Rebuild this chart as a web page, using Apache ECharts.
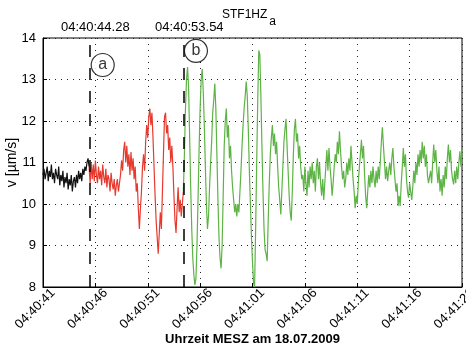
<!DOCTYPE html>
<html>
<head>
<meta charset="utf-8">
<script src="https://cdn.jsdelivr.net/npm/echarts@6/dist/echarts.min.js"></script>
<style>
  html, body { margin: 0; padding: 0; background: #fff; }
  #main { width: 466px; height: 349px; }
</style>
</head>
<body>
<div id="main"></div>
<script>
// x is seconds after 04:40:41, sampled every 0.1 s
const xTickLabels = ['04:40:41', '04:40:46', '04:40:51', '04:40:56', '04:41:01', '04:41:06', '04:41:11', '04:41:16', '04:41:21'];
const sampleStep = 0.1;
const segmentStart = [0, 4.4, 13.4];

const quietValues = [
  10.7, 10.85, 10.6, 10.75, 10.9, 10.55, 10.8, 10.65, 10.95, 10.6,
  10.75, 10.5, 10.85, 10.7, 10.6, 10.9, 10.45, 10.7, 10.55, 10.8,
  10.4, 10.65, 10.5, 10.75, 10.35, 10.6, 10.45, 10.7, 10.3, 10.55,
  10.65, 10.4, 10.7, 10.5, 10.8, 10.6, 10.75, 10.55, 10.85, 10.7,
  10.9, 10.8, 11.0, 11.1, 10.9
];

const phaseAValues = [
  10.9, 10.5, 11.0, 10.6, 10.95, 10.55, 11.05, 10.7, 10.5, 10.9,
  10.6, 10.8, 10.45, 10.95, 10.65, 10.5, 10.85, 10.4, 10.7, 10.6,
  10.3, 10.75, 10.5, 10.35, 10.6, 10.2, 10.45, 10.6, 10.3, 10.5,
  10.7, 11.05, 10.8, 11.3, 11.5, 11.0, 11.4, 10.9, 11.2, 10.7,
  11.25, 10.8, 11.1, 10.6, 10.9, 10.3, 10.5, 9.9, 9.4, 9.9,
  10.3, 10.9, 11.2, 10.8, 11.5, 11.9, 11.6, 12.1, 12.3, 11.9,
  12.2, 11.6, 10.9, 10.2, 9.6, 9.2, 8.8, 9.3, 9.8, 9.4,
  10.3, 11.2, 12.1, 12.2, 11.7, 11.9, 11.3, 11.6, 11.0, 11.4,
  10.9, 10.2, 9.6, 9.3, 9.9, 10.4, 9.8, 10.1, 9.7, 10.0,
  10.3
];

const phaseBValues = [
  10.3, 11.2, 12.3, 13.0, 13.3, 12.8, 11.6, 10.4, 9.4, 8.7,
  8.3, 8.05, 8.2, 9.0, 10.1, 11.3, 12.3, 13.0, 13.25, 12.7,
  11.9, 10.9, 10.0, 9.4, 9.7, 10.4, 11.0, 11.5, 12.2, 12.5,
  12.9, 12.3, 11.2, 10.1, 9.2, 8.7, 8.45, 9.0, 10.2, 11.4,
  12.0, 12.3, 11.6, 11.9, 11.1, 11.4, 10.8, 10.4, 10.1, 9.8,
  10.0, 9.7, 10.0, 9.8, 10.3, 10.8, 11.4, 11.9, 12.3, 12.6,
  12.95, 12.6, 11.8, 10.8, 10.0, 9.2, 8.6, 8.1, 8.0, 9.4,
  11.0, 12.5, 13.7, 13.6, 12.6, 11.4, 10.3, 9.4, 8.9, 8.8,
  8.62, 9.6, 10.5, 11.2, 11.6, 11.9, 11.4, 11.7, 11.2, 11.5,
  10.9, 10.4, 10.1, 9.75, 10.3, 10.9, 11.5, 11.8, 12.05, 11.4,
  10.8, 10.2, 9.8, 9.6, 10.3, 11.2, 11.8, 12.05, 11.5, 11.7,
  11.1, 11.4, 10.9, 10.6, 10.7, 10.3, 10.9, 10.5, 10.2, 10.8,
  10.4, 10.9, 10.6, 11.0, 10.5, 10.8, 10.3, 10.9, 11.1, 10.6,
  11.0, 10.5, 10.2, 10.6, 10.1, 10.5, 10.9, 11.3, 10.8, 11.35,
  10.9, 10.6, 10.2, 10.5, 10.9, 11.2, 11.0, 11.5, 11.2, 11.75,
  11.3, 10.9, 10.6, 10.8, 10.4, 10.6, 11.0, 10.7, 11.1, 10.8,
  11.4, 11.0, 10.6, 10.3, 9.9, 10.2, 10.0, 10.5, 10.9, 11.2,
  11.55, 11.1, 11.4, 10.7, 10.2, 9.9, 10.3, 10.7, 10.4, 10.8,
  10.5, 10.9, 10.6, 10.4, 10.8, 10.5, 10.9, 10.6, 11.0, 11.5,
  11.85, 11.4, 11.0, 10.6, 10.9, 10.55, 10.8, 11.0, 10.7, 11.1,
  11.35, 10.9, 10.6, 10.3, 10.5, 9.95, 10.2, 9.95, 10.5, 10.9,
  11.35, 10.9, 11.2, 10.6, 10.3, 10.15, 10.5, 10.3, 10.1, 10.4,
  10.8, 10.5, 11.0, 10.7, 11.2, 10.9, 11.3, 11.0, 11.5, 11.1,
  11.4, 10.9, 11.2, 10.7, 10.5, 10.47, 10.8, 10.5, 11.0, 11.43,
  11.0, 11.3, 10.8, 10.5, 10.9, 10.3, 10.6, 10.2, 10.7, 10.4,
  10.9, 10.6, 11.1, 11.43, 11.0, 11.3, 10.8, 10.6, 10.47, 10.8,
  10.5, 10.9, 10.6, 11.0, 11.27, 10.9, 11.3
];

const eventTimes = [4.42, 13.39];
const eventLabels = ['04:40:44.28', '04:40:53.54'];

const phaseX = [5.7, 14.6];
const phaseY = [13.35, 13.69];
const phaseNames = ['a', 'b'];

const FONT = 'Liberation Sans, Arial, Helvetica, sans-serif';

const toPairs = (values, start) =>
  values.map((v, i) => [+(start + i * sampleStep).toFixed(2), v]);

const chart = echarts.init(document.getElementById('main'));

const lineSeries = (data, color) => ({
  type: 'line',
  data,
  showSymbol: false,
  symbol: 'none',
  sampling: 'none',
  lineStyle: { color, width: 1.2 },
  z: 3,
});

const quiet = lineSeries(toPairs(quietValues, segmentStart[0]), '#111');
quiet.markLine = {
  silent: true,
  symbol: ['none', 'none'],
  lineStyle: { color: '#000', width: 1.5, type: [12, 11] },
  label: {
    show: true,
    position: 'end',
    distance: 4,
    color: '#000',
    fontSize: 13,
    fontFamily: FONT,
    padding: [0, 0, 0, 12],
    formatter: p => p.name,
  },
  data: eventTimes.map((t, i) => ({ xAxis: t, name: eventLabels[i] })),
};

chart.setOption({
  animation: false,
  backgroundColor: '#fff',
  textStyle: { fontFamily: FONT },
  title: {
    left: 222,
    top: 9,
    padding: 0,
    text: '{m|STF1HZ}{s|a}',
    textStyle: {
      fontWeight: 'normal',
      rich: {
        m: { fontSize: 12, fontWeight: 'normal', color: '#000', fontFamily: FONT, verticalAlign: 'top' },
        s: { fontSize: 12, fontWeight: 'normal', color: '#000', fontFamily: FONT, verticalAlign: 'bottom', padding: [7, 0, 0, 2] },
      },
    },
  },
  grid: {
    left: 43,
    right: 4,
    top: 38,
    bottom: 62,
    containLabel: false,
    outerBoundsMode: 'none',
    show: true,
    borderColor: '#000',
    borderWidth: 1,
  },
  xAxis: {
    type: 'value',
    min: 0,
    max: 40,
    interval: 5,
    name: 'Uhrzeit MESZ am 18.07.2009',
    nameLocation: 'middle',
    nameGap: 46,
    nameMoveOverlap: false,
    nameTextStyle: { fontSize: 13, fontWeight: 'bold', color: '#000', fontFamily: FONT },
    axisLine: { show: true, lineStyle: { color: '#000', width: 1 } },
    axisTick: { show: true, inside: true, length: 4, lineStyle: { color: '#000' } },
    axisLabel: {
      rotate: 45,
      align: 'center',
      verticalAlign: 'middle',
      margin: 14,
      fontSize: 13,
      color: '#000',
      fontFamily: FONT,
      hideOverlap: false,
      formatter: v => '{t|' + xTickLabels[Math.round(v / 5)] + '}',
      rich: { t: { fontSize: 13, color: '#000', fontFamily: FONT, padding: [0, 22, 0, 0] } },
    },
    splitLine: { show: true, lineStyle: { color: '#222', width: 1, type: [1, 5] } },
  },
  yAxis: {
    type: 'value',
    min: 8,
    max: 14,
    interval: 1,
    name: 'v [µm/s]',
    nameLocation: 'middle',
    nameGap: 24,
    nameMoveOverlap: false,
    nameTextStyle: { fontSize: 14, color: '#000', fontFamily: FONT },
    axisLine: { show: true, lineStyle: { color: '#000', width: 1 } },
    axisTick: { show: true, inside: true, length: 4, lineStyle: { color: '#000' } },
    axisLabel: { fontSize: 13, color: '#000', margin: 7, fontFamily: FONT },
    splitLine: { show: true, lineStyle: { color: '#222', width: 1, type: [1, 5] } },
  },
  series: [
    quiet,
    lineSeries(toPairs(phaseAValues, segmentStart[1]), '#e63a2e'),
    lineSeries(toPairs(phaseBValues, segmentStart[2]), '#5db345'),
    {
      type: 'scatter',
      data: phaseX.map((x, i) => ({ value: [x, phaseY[i]], name: phaseNames[i] })),
      symbol: 'circle',
      symbolSize: 23,
      itemStyle: { color: '#fff', borderColor: '#000', borderWidth: 1.2 },
      label: {
        show: true,
        position: 'inside',
        color: '#000',
        fontSize: 16,
        fontFamily: FONT,
        formatter: p => p.name,
      },
      z: 5,
    },
  ],
});
</script>
</body>
</html>
